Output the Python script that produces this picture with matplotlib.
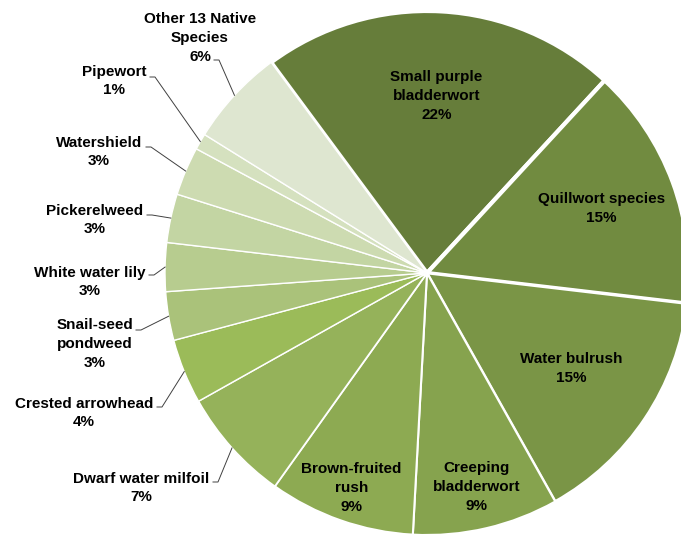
import numpy as np
import matplotlib.pyplot as plt

# share of plant occurrences by species
species = ["Small purple\nbladderwort", "Quillwort species", "Water bulrush",
           "Creeping\nbladderwort", "Brown-fruited\nrush", "Dwarf water milfoil",
           "Crested arrowhead", "Snail-seed\npondweed", "White water lily",
           "Pickerelweed", "Watershield", "Pipewort", "Other 13 Native\nSpecies"]
percent = [22, 15, 15, 9, 9, 7, 4, 3, 3, 3, 3, 1, 6]

colors = ["#667d3a", "#718b40", "#7a9546", "#86a34e", "#8daa52", "#95b25a",
          "#9bbb59", "#aac27a", "#b7cc8f", "#c3d5a3", "#cddbb1", "#d5e1bf",
          "#dee6d0"]
edge_widths = [3, 3, 2, 1.5, 1.5, 1.2, 1, 1, 1, 1, 1, 1, 1]

# inside labels: radius as a fraction of the pie radius
inside = {0: 0.675, 1: 0.71, 2: 0.66, 3: 0.84, 4: 0.87}
# outside labels: text centre and leader start, in pixels from top-left
outside = {
    5: ((141, 488), (213, 482)),
    6: ((84, 413), (157, 407)),
    7: ((95, 344), (136, 330)),
    8: ((90, 282), (149, 275)),
    9: ((95, 220), (147, 215)),
    10: ((99, 152), (146, 147)),
    11: ((114, 81), (150, 77)),
    12: ((200, 38), (214, 60)),
}

plt.rcParams['font.family'] = ['Liberation Sans', 'DejaVu Sans']

W, H = 681, 537
fig = plt.figure(figsize=(W / 100, H / 100), dpi=100)
ax = fig.add_axes([0, 0, 1, 1])

cx, cy, r = 427, H - 273, 262
wedges, _ = ax.pie(percent, colors=colors, startangle=126.5, counterclock=False,
                   center=(cx, cy), radius=r,
                   wedgeprops=dict(edgecolor="white", linewidth=1))
for w, lw in zip(wedges, edge_widths):
    w.set_linewidth(lw)

ax.set_xlim(0, W)
ax.set_ylim(0, H)
ax.axis("off")

font = dict(fontsize=11, fontweight="bold", color="black", ha="center",
            va="center", multialignment="center", linespacing=1.45)

for i, (w, name, p) in enumerate(zip(wedges, species, percent)):
    label = f"{name}\n{p}%"
    mid = np.deg2rad((w.theta1 + w.theta2) / 2)
    if i in inside:
        f = inside[i]
        ax.text(cx + f * r * np.cos(mid), cy + f * r * np.sin(mid), label, **font)
    else:
        (tx, ty), (sx, sy) = outside[i]
        ax.text(tx, H - ty, label, **font)
        ex = cx + r * np.cos(mid)
        ey = cy + r * np.sin(mid)
        ax.plot([sx, sx + 5, ex], [H - sy, H - sy, ey], color="#404040", lw=0.7)

fig.savefig("out.png", dpi=100)
